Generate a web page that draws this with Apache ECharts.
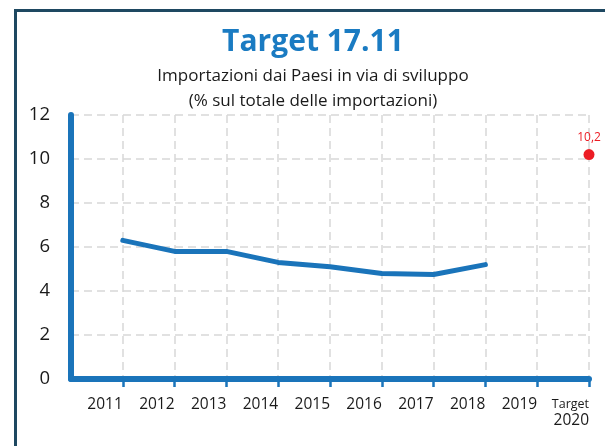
<!DOCTYPE html>
<html>
<head>
<meta charset="utf-8">
<script src="https://cdn.jsdelivr.net/npm/echarts@6/dist/echarts.min.js"></script>
<style>
html,body{margin:0;padding:0;background:#fff;}
#chart{width:605px;height:446px;}
</style>
</head>
<body>
<div id="chart"></div>
<script>
var categories = ['', '2011', '2012', '2013', '2014', '2015', '2016', '2017', '2018', '2019', 'Target\n2020'];
var importValues = [null, 6.3, 5.8, 5.8, 5.3, 5.1, 4.8, 4.75, 5.2, null, null];
var targetValues = [null, null, null, null, null, null, null, null, null, null, 10.2];
var targetLabels = ['10,2'];
var titleText = 'Target 17.11';
var subtitleText = 'Importazioni dai Paesi in via di sviluppo\n(% sul totale delle importazioni)';

var FONT = 'Open Sans';
var BLUE = '#1a74ba';
var RED = '#ec1c24';
var chart = echarts.init(document.getElementById('chart'), null, {renderer: 'canvas'});
chart.setOption({
  animation: false,
  backgroundColor: '#fff',
  graphic: [{
    type: 'rect',
    shape: {x: 15.5, y: 10.5, width: 800, height: 800},
    style: {fill: 'none', stroke: '#1e4861', lineWidth: 3},
    z: 0
  }],
  title: {
    text: titleText,
    subtext: subtitleText,
    left: 308,
    textAlign: 'center',
    top: 20,
    itemGap: 5,
    textStyle: {fontFamily: FONT, fontWeight: 'bold', fontSize: 30, color: '#1a7bc2', lineHeight: 34},
    subtextStyle: {fontFamily: FONT, fontSize: 17, color: '#1a1a1a', lineHeight: 25}
  },
  grid: {left: 71, right: 16, top: 115, bottom: 67, containLabel: false},
  xAxis: {
    type: 'category',
    data: categories,
    boundaryGap: false,
    axisLine: {show: true, lineStyle: {color: BLUE, width: 6, cap: 'round'}},
    axisTick: {show: true, interval: function (i) { return i > 0; }, length: 8, lineStyle: {color: BLUE, width: 2.5}},
    splitLine: {show: true, interval: 0, lineStyle: {color: '#d8d8d8', type: [8, 5], width: 1.5}},
    axisLabel: {
      interval: 0,
      align: 'right',
      margin: 18,
      fontFamily: FONT,
      fontSize: 15.5,
      color: '#1a1a1a',
      formatter: function (v) {
        if (v.indexOf('\n') >= 0) {
          var p = v.split('\n');
          return '{s|' + p[0] + '}\n{b|' + p[1] + '}';
        }
        return v;
      },
      rich: {
        s: {fontFamily: FONT, fontSize: 12.5, color: '#1a1a1a', align: 'right', lineHeight: 15},
        b: {fontFamily: FONT, fontSize: 15.5, color: '#1a1a1a', align: 'right', lineHeight: 18}
      }
    }
  },
  yAxis: {
    type: 'value',
    min: 0,
    max: 12,
    interval: 2,
    axisLine: {show: true, lineStyle: {color: BLUE, width: 6, cap: 'round'}},
    axisTick: {show: false},
    splitLine: {show: true, lineStyle: {color: '#d8d8d8', type: [8, 5], width: 1.5}},
    axisLabel: {margin: 21, fontFamily: FONT, fontSize: 18.5, color: '#1a1a1a'}
  },
  series: [{
    type: 'line',
    data: importValues,
    symbol: 'none',
    connectNulls: false,
    lineStyle: {color: BLUE, width: 5, cap: 'round'},
    z: 3
  }, {
    type: 'scatter',
    data: targetValues,
    symbol: 'circle',
    symbolSize: 11,
    itemStyle: {color: RED, opacity: 1},
    label: {
      show: true,
      position: 'top',
      distance: 6,
      formatter: function () { return targetLabels[0]; },
      fontFamily: FONT,
      fontSize: 12,
      color: RED
    },
    z: 4
  }]
});
</script>
</body>
</html>
